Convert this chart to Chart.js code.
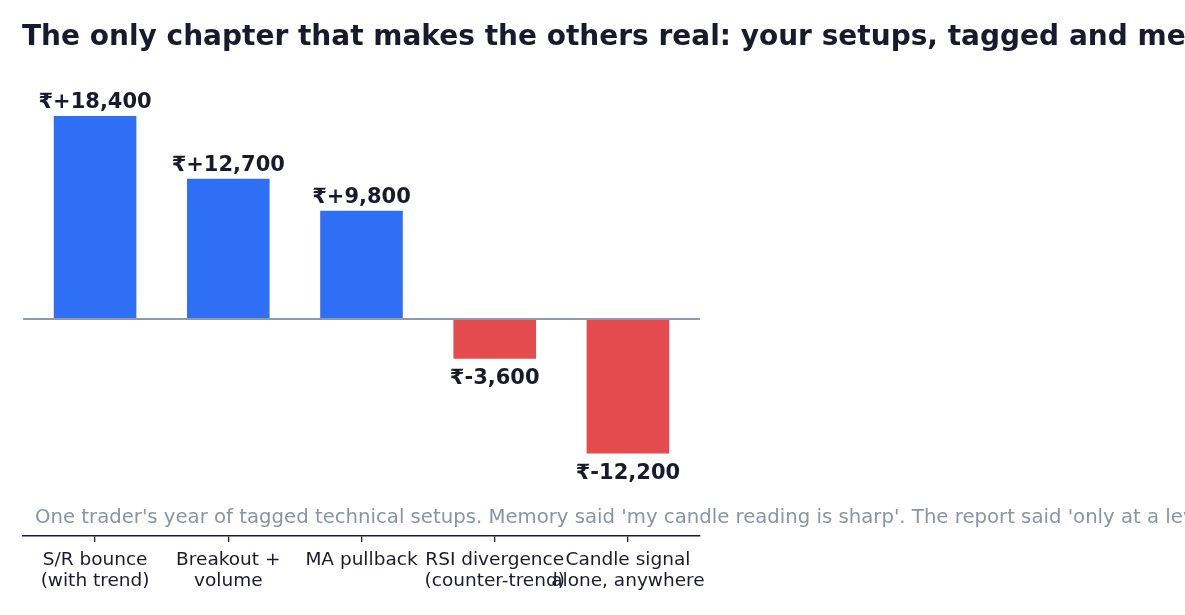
<!DOCTYPE html>
<html>
<head>
<meta charset="utf-8">
<script src="https://cdn.jsdelivr.net/npm/chart.js@4/dist/chart.umd.min.js"></script>
<style>
  html, body { margin: 0; padding: 0; background: #ffffff; overflow: hidden; }
  #wrap { position: relative; width: 1185px; height: 615px; overflow: hidden; }
  #c { position: absolute; left: 0; top: 0; }
  #title { position: absolute; left: 22px; top: 22px; white-space: nowrap; line-height: 1;
    font-family: "DejaVu Sans", sans-serif; font-weight: bold; font-size: 28px; color: #1a1a2e; }
  #sub { position: absolute; left: 35px; top: 507px; white-space: nowrap; line-height: 1;
    font-family: "DejaVu Sans", sans-serif; font-size: 19.7px; color: #8a94a6; }
</style>
</head>
<body>
<div id="wrap">
  <canvas id="c" width="1185" height="615"></canvas>
  <div id="title">The only chapter that makes the others real: your setups, tagged and measured</div>
  <div id="sub">One trader's year of tagged technical setups. Memory said 'my candle reading is sharp'. The report said 'only at a level'.</div>
</div>
<script>
const categories = [
  ['S/R bounce', '(with trend)'],
  ['Breakout +', 'volume'],
  ['MA pullback'],
  ['RSI divergence', '(counter-trend)'],
  ['Candle signal', 'alone, anywhere']
];
const pnl = [18400, 12700, 9800, -3600, -12200];
const valueLabels = ['₹+18,400', '₹+12,700', '₹+9,800', '₹-3,600', '₹-12,200'];
const positions = [0, 1, 2, 3, 4];

const INK = '#1a1a2e';
const barColors = pnl.map(v => v >= 0 ? '#2f6ff6' : '#e54a4f');

const zeroLine = {
  id: 'zeroLine',
  afterDatasetsDraw(chart) {
    const {ctx, chartArea, scales} = chart;
    const y = scales.y.getPixelForValue(0);
    ctx.save();
    ctx.strokeStyle = '#8e99ac';
    ctx.lineWidth = 2.2;
    ctx.beginPath();
    ctx.moveTo(chartArea.left, y);
    ctx.lineTo(chartArea.right, y);
    ctx.stroke();
    ctx.restore();
  }
};

const barLabels = {
  id: 'barLabels',
  afterDatasetsDraw(chart) {
    const {ctx} = chart;
    const meta = chart.getDatasetMeta(0);
    ctx.save();
    ctx.font = 'bold 21px "DejaVu Sans", sans-serif';
    ctx.fillStyle = INK;
    ctx.textAlign = 'center';
    ctx.textBaseline = 'alphabetic';
    meta.data.forEach((el, i) => {
      const v = pnl[i];
      if (v >= 0) {
        ctx.fillText(valueLabels[i], el.x, el.y - 8);
      } else {
        ctx.fillText(valueLabels[i], el.x, el.y + 25);
      }
    });
    ctx.restore();
  }
};

new Chart(document.getElementById('c'), {
  type: 'bar',
  data: {
    datasets: [{
      data: pnl.map((v, i) => ({x: positions[i], y: v})),
      backgroundColor: barColors,
      borderWidth: 0,
      categoryPercentage: 1.0,
      barPercentage: 0.62
    }]
  },
  options: {
    responsive: false,
    animation: false,
    devicePixelRatio: 1,
    layout: { padding: { left: 23, right: 485, top: 80, bottom: 0 } },
    plugins: { legend: { display: false }, tooltip: { enabled: false }, title: { display: false } },
    scales: {
      x: {
        type: 'linear',
        offset: false,
        min: -0.541,
        max: 4.541,
        afterBuildTicks(scale) { scale.ticks = positions.map(p => ({value: p})); },
        afterFit(scale) { scale.height = 79; },
        ticks: {
          autoSkip: false,
          maxRotation: 0,
          minRotation: 0,
          padding: 8,
          color: INK,
          font: { family: '"DejaVu Sans", sans-serif', size: 18.5, lineHeight: 1.14 },
          callback: (v) => categories[v]
        },
        grid: { display: true, offset: false, drawOnChartArea: false, drawTicks: true, tickLength: 6, color: INK, lineWidth: 1.3 },
        border: { display: true, color: INK, width: 1.5 }
      },
      y: {
        display: false,
        min: -19670,
        max: 21660
      }
    }
  },
  plugins: [zeroLine, barLabels]
});
</script>
</body>
</html>
